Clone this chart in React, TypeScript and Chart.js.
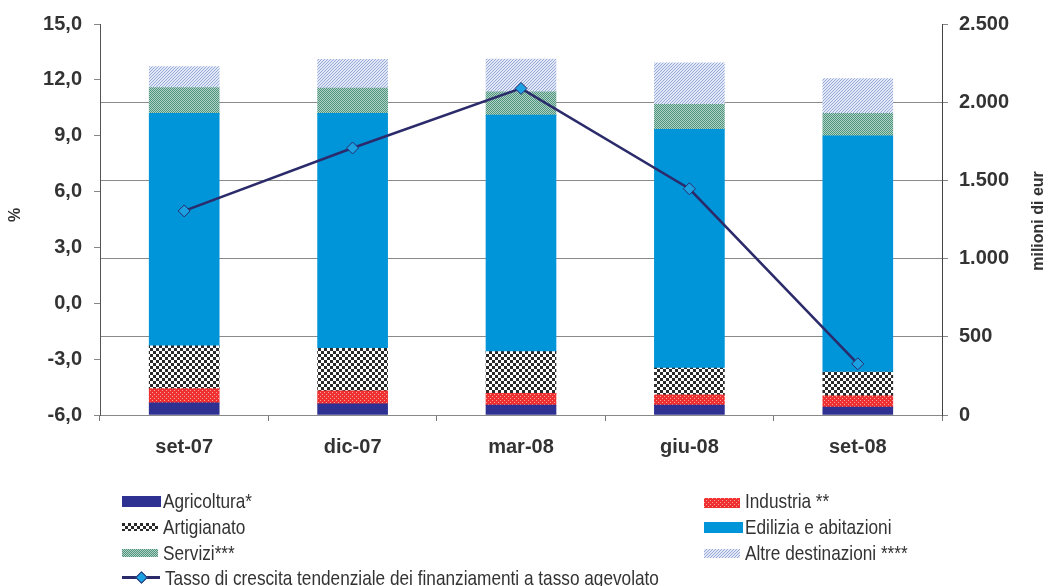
import React, { useEffect, useMemo, useRef } from 'react';
import { Chart, registerables } from 'chart.js';

Chart.register(...registerables);

const categories = ['set-07', 'dic-07', 'mar-08', 'giu-08', 'set-08'];
const agricoltura = [78, 72, 63, 63, 51];
const industria = [91, 82, 76, 66, 72];
const artigianato = [273, 273, 266, 171, 152];
const edilizia = [1487, 1502, 1512, 1527, 1510];
const servizi = [165, 161, 150, 159, 144];
const altre = [133, 184, 209, 266, 222];
const tasso = [4.96, 8.34, 11.54, 6.15, -3.25];

const leftTicks = { min: -6, max: 15, step: 3 };
const rightTicks = { min: 0, max: 2500, step: 500 };

const FONT = "'Liberation Sans', Arial, Helvetica, sans-serif";
const TEXT = '#333333';
const NAVY = '#2E3192';
const BLUE = '#0094D9';
const LINE = '#2B2B6B';
const MARKER = '#1BA1E2';

function makePatternCanvas(kind: string): HTMLCanvasElement {
  const c = document.createElement('canvas');
  const g = c.getContext('2d')!;
  if (kind === 'industria') {
    c.width = 4; c.height = 4;
    g.fillStyle = '#EE3030'; g.fillRect(0, 0, 4, 4);
    g.fillStyle = '#F7A2A2'; g.fillRect(0, 0, 1, 1); g.fillRect(2, 2, 1, 1);
  } else if (kind === 'artigianato') {
    c.width = 6; c.height = 6;
    g.fillStyle = '#ffffff'; g.fillRect(0, 0, 6, 6);
    g.fillStyle = '#2a2a2a'; g.fillRect(0, 0, 3, 3); g.fillRect(3, 3, 3, 3);
  } else if (kind === 'servizi') {
    c.width = 2; c.height = 2;
    g.fillStyle = '#4F947E'; g.fillRect(0, 0, 2, 2);
    g.fillStyle = '#AFD2C5'; g.fillRect(1, 0, 1, 1); g.fillRect(0, 1, 1, 1);
  } else {
    c.width = 3; c.height = 3;
    g.fillStyle = '#E2E8F6'; g.fillRect(0, 0, 3, 3);
    g.fillStyle = '#96A9D9';
    g.fillRect(0, 2, 1, 1); g.fillRect(1, 1, 1, 1); g.fillRect(2, 0, 1, 1);
  }
  return c;
}

function fmtLeft(v: number): string {
  return v.toFixed(1).replace('.', ',');
}
function fmtRight(v: number): string {
  if (v >= 1000) return `${Math.floor(v / 1000)}.${String(v % 1000).padStart(3, '0')}`;
  return String(v);
}

const titlesPlugin = {
  id: 'axisTitles',
  afterDraw(chart: any) {
    const ctx = chart.ctx as CanvasRenderingContext2D;
    ctx.save();
    ctx.fillStyle = TEXT;
    ctx.textAlign = 'center';
    ctx.textBaseline = 'middle';
    ctx.font = `bold 16px ${FONT}`;
    ctx.translate(16, 215);
    ctx.rotate(-Math.PI / 2);
    ctx.fillText('%', 0, 0);
    ctx.restore();
    ctx.save();
    ctx.fillStyle = TEXT;
    ctx.textAlign = 'center';
    ctx.textBaseline = 'middle';
    ctx.font = `bold 16px ${FONT}`;
    ctx.translate(1039, 221);
    ctx.rotate(-Math.PI / 2);
    ctx.fillText('milioni di eur', 0, 0);
    ctx.restore();
  },
};

export default function App() {
  const ref = useRef<HTMLCanvasElement>(null);

  const swatches = useMemo(() => ({
    industria: makePatternCanvas('industria').toDataURL(),
    artigianato: makePatternCanvas('artigianato').toDataURL(),
    servizi: makePatternCanvas('servizi').toDataURL(),
    altre: makePatternCanvas('altre').toDataURL(),
  }), []);

  useEffect(() => {
    const canvas = ref.current!;
    const ctx = canvas.getContext('2d')!;
    const pat = (k: string) => ctx.createPattern(makePatternCanvas(k), 'repeat')!;
    const tickFont = { family: FONT, size: 20, weight: 'bold' as const };

    const barBase = { type: 'bar' as const, yAxisID: 'y1', stack: 's', barThickness: 70, borderWidth: 0, order: 2 };

    const chart = new Chart(ctx, {
      type: 'bar',
      data: {
        labels: categories,
        datasets: [
          {
            type: 'line',
            label: 'Tasso di crescita tendenziale dei finanziamenti a tasso agevolato',
            data: tasso,
            yAxisID: 'y',
            borderColor: LINE,
            borderWidth: 2.5,
            tension: 0,
            pointStyle: 'rectRot',
            pointRadius: 6,
            pointBackgroundColor: MARKER,
            pointBorderColor: LINE,
            pointBorderWidth: 1,
            order: 0,
          } as any,
          { ...barBase, label: 'Agricoltura*', data: agricoltura, backgroundColor: NAVY },
          { ...barBase, label: 'Industria **', data: industria, backgroundColor: pat('industria') },
          { ...barBase, label: 'Artigianato', data: artigianato, backgroundColor: pat('artigianato') },
          { ...barBase, label: 'Edilizia e abitazioni', data: edilizia, backgroundColor: BLUE },
          { ...barBase, label: 'Servizi***', data: servizi, backgroundColor: pat('servizi') },
          { ...barBase, label: 'Altre destinazioni ****', data: altre, backgroundColor: pat('altre') },
        ],
      },
      options: {
        responsive: false,
        maintainAspectRatio: false,
        devicePixelRatio: 1,
        animation: false,
        layout: { padding: { top: 21, bottom: 121, left: 0, right: 0 } },
        plugins: { legend: { display: false }, tooltip: { enabled: false } },
        scales: {
          x: {
            stacked: true,
            offset: true,
            grid: { display: true, drawOnChartArea: false, offset: true, color: '#777', tickLength: 6 },
            border: { display: true, color: '#888' },
            ticks: { font: tickFont, color: TEXT, padding: 14 },
            afterFit: (s: any) => { s.height = 50; },
          },
          y: {
            position: 'left',
            min: leftTicks.min,
            max: leftTicks.max,
            ticks: { stepSize: leftTicks.step, callback: (v: any) => fmtLeft(Number(v)), font: tickFont, color: TEXT, padding: 12 },
            grid: { drawOnChartArea: false, tickLength: 6, color: '#888' },
            border: { display: true, color: '#555' },
            afterFit: (s: any) => { s.width = 100; },
          },
          y1: {
            position: 'right',
            stacked: true,
            min: rightTicks.min,
            max: rightTicks.max,
            ticks: { stepSize: rightTicks.step, callback: (v: any) => fmtRight(Number(v)), font: tickFont, color: TEXT, padding: 11 },
            grid: {
              drawOnChartArea: true,
              tickLength: 6,
              color: (c: any) => (c.tick && c.tick.value === rightTicks.max ? 'rgba(0,0,0,0)' : '#8a8a8a'),
              tickColor: '#888',
            },
            border: { display: true, color: '#444' },
            afterFit: (s: any) => { s.width = 113; },
          },
        },
      } as any,
      plugins: [titlesPlugin],
    });
    return () => chart.destroy();
  }, []);

  const textStyle = (left: number, center: number): React.CSSProperties => ({
    position: 'absolute',
    left,
    top: center - 12,
    height: 24,
    lineHeight: '24px',
    fontFamily: FONT,
    fontSize: 21,
    color: TEXT,
    whiteSpace: 'nowrap',
    transform: 'scaleX(0.82)',
    transformOrigin: 'left center',
  });
  const sw = (left: number, top: number, w: number, h: number, bg: string, img?: string): React.CSSProperties => ({
    position: 'absolute', left, top, width: w, height: h,
    backgroundColor: bg,
    backgroundImage: img ? `url(${img})` : undefined,
    imageRendering: 'pixelated',
  });

  return (
    <div style={{ position: 'absolute', left: 0, top: 0, width: 1055, height: 586, background: '#fff', overflow: 'hidden' }}>
      <canvas ref={ref} width={1055} height={586} style={{ position: 'absolute', left: 0, top: 0, width: 1055, height: 586 }} />
      <div style={sw(122, 496, 39, 11, NAVY)} />
      <span style={textStyle(163, 501)}>Agricoltura*</span>
      <div style={sw(704, 498, 36, 10, '#EE3030', swatches.industria)} />
      <span style={textStyle(745, 501)}>Industria **</span>
      <div style={sw(122, 523, 36, 8, '#fff', swatches.artigianato)} />
      <span style={textStyle(163, 527)}>Artigianato</span>
      <div style={sw(704, 522, 39, 11, BLUE)} />
      <span style={textStyle(745, 527)}>Edilizia e abitazioni</span>
      <div style={sw(122, 549, 36, 8, '#4F947E', swatches.servizi)} />
      <span style={textStyle(163, 553)}>Servizi***</span>
      <div style={sw(704, 549, 36, 9, '#E2E8F6', swatches.altre)} />
      <span style={textStyle(745, 553)}>Altre destinazioni ****</span>
      <div style={{ position: 'absolute', left: 122, top: 576, width: 38, height: 2.5, background: LINE }} />
      <div style={{ position: 'absolute', left: 137, top: 573, width: 7, height: 7, background: MARKER, border: `1px solid ${LINE}`, transform: 'rotate(45deg)' }} />
      <span style={textStyle(165, 578)}>Tasso di crescita tendenziale dei finanziamenti a tasso agevolato</span>
    </div>
  );
}
